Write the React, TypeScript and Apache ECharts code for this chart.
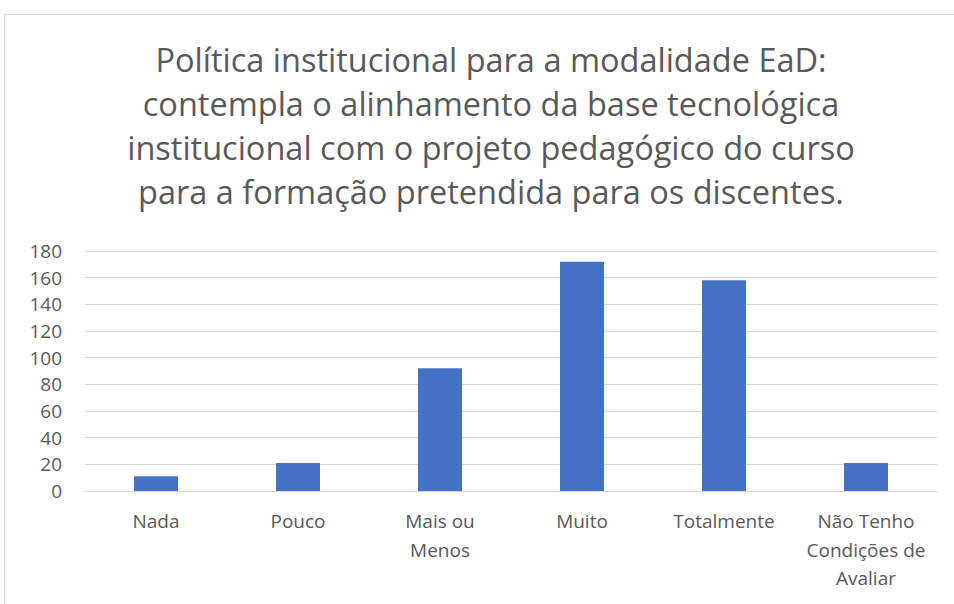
import React, { useEffect, useRef } from "react";
import * as echarts from "echarts";

const categories = ["Nada", "Pouco", "Mais ou\nMenos", "Muito", "Totalmente", "Não Tenho\nCondições de\nAvaliar"];
const values = [11, 21, 92, 172, 158, 21];
const titleLines = [
  "Política institucional para a modalidade EaD:",
  "contempla o alinhamento da base tecnológica",
  "institucional com o projeto pedagógico do curso",
  "para a formação pretendida para os discentes.",
];

export default function App() {
  const ref = useRef<HTMLDivElement>(null);
  useEffect(() => {
    const chart = echarts.init(ref.current!, null, { renderer: "svg" });
    chart.setOption({
      animation: false,
      backgroundColor: "#ffffff",
      textStyle: { fontFamily: "Open Sans" },
      graphic: [
        {
          type: "rect",
          shape: { x: 4.5, y: 14.5, width: 980, height: 620 },
          style: { fill: "none", stroke: "#d9d9d9", lineWidth: 1 },
          silent: true,
        },
        {
          type: "text",
          x: 491,
          y: 37,
          style: {
            text: titleLines.join("\n"),
            textAlign: "center",
            textVerticalAlign: "top",
            fontFamily: "Open Sans",
            fontSize: 32.5,
            lineHeight: 44,
            fill: "#595959",
          },
        },
      ],
      grid: { left: 85, right: 17, top: 251, bottom: 113 },
      xAxis: {
        type: "category",
        data: categories,
        axisLine: { show: true, lineStyle: { color: "#d9d9d9" } },
        axisTick: { show: false },
        axisLabel: {
          color: "#595959",
          fontSize: 19,
          lineHeight: 28.5,
          margin: 16,
          interval: 0,
          fontFamily: "Open Sans",
        },
      },
      yAxis: {
        type: "value",
        min: 0,
        max: 180,
        interval: 20,
        axisLine: { show: false },
        axisTick: { show: false },
        splitLine: { lineStyle: { color: "#d9d9d9", width: 1 } },
        axisLabel: { color: "#595959", fontSize: 19, margin: 23, fontFamily: "Open Sans" },
      },
      series: [
        {
          type: "bar",
          data: values,
          barWidth: "31%",
          itemStyle: { color: "#4472c4" },
        },
      ],
    });
    return () => chart.dispose();
  }, []);
  return (
    <div style={{ position: "fixed", left: 0, top: 0, width: 954, height: 604, background: "#fff" }}>
      <div ref={ref} style={{ width: 954, height: 604 }} />
    </div>
  );
}
